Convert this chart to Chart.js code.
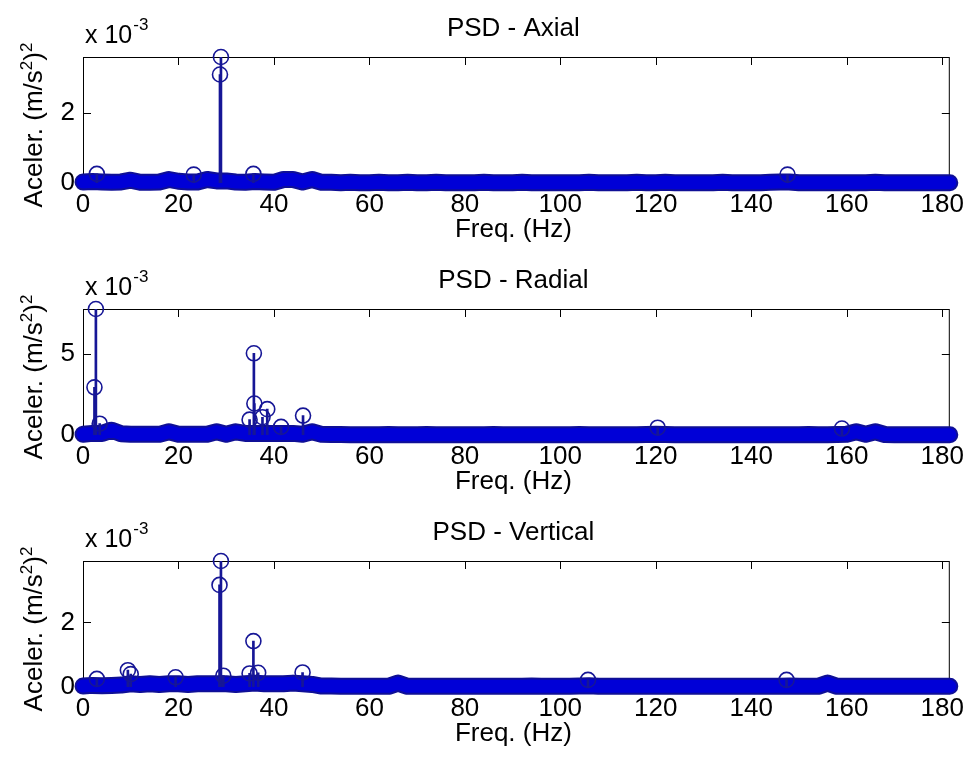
<!DOCTYPE html>
<html lang="pt">
<head>
<meta charset="UTF-8">
<title>PSD</title>
<script src="https://cdn.jsdelivr.net/npm/chart.js@4.4.0/dist/chart.umd.min.js"></script>
<style>
  body { margin: 0; background: #fff; }
  .panel { position: absolute; left: 0; width: 970px; }
</style>
</head>
<body>
<div class="panel" style="top:0"><canvas id="psdAxial" width="970" height="252"></canvas></div>
<div class="panel" style="top:252px"><canvas id="psdRadial" width="970" height="252"></canvas></div>
<div class="panel" style="top:504px"><canvas id="psdVertical" width="970" height="258"></canvas></div>

<script>
// values in units of 1e-3 (m/s^2)^2, as the axes show them
const xTicks = [0, 20, 40, 60, 80, 100, 120, 140, 160, 180];
const xMax = 181.6;

// the dense low-level floor of the spectrum
const baseFreq = [0, 2, 4, 6, 8, 10, 12, 14, 16, 18,
  20, 22, 24, 26, 28, 30, 32, 34, 36, 38,
  40, 42, 44, 46, 48, 50, 52, 54, 56, 58,
  60, 62, 64, 66, 68, 70, 72, 74, 76, 78,
  80, 82, 84, 86, 88, 90, 92, 94, 96, 98,
  100, 102, 104, 106, 108, 110, 112, 114, 116, 118,
  120, 122, 124, 126, 128, 130, 132, 134, 136, 138,
  140, 142, 144, 146, 148, 150, 152, 154, 156, 158,
  160, 162, 164, 166, 168, 170, 172, 174, 176, 178,
  180, 181.6];

const axialBase = [0.03, 0.04, 0.03, 0.02, 0.03, 0.08, 0.02, 0.02, 0.03, 0.1,
  0.05, 0.03, 0.03, 0.1, 0.06, 0.06, 0.03, 0.02, 0.04, 0.03,
  0.02, 0.1, 0.1, 0.03, 0.1, 0.02, 0.02, 0.01, 0.02, 0.01,
  0.01, 0.02, 0.01, 0.01, 0.02, 0.01, 0.01, 0.02, 0.01, 0.01,
  0.01, 0.01, 0.02, 0.01, 0.01, 0.01, 0.02, 0.01, 0.01, 0.01,
  0.01, 0.01, 0.01, 0.02, 0.01, 0.01, 0.01, 0.01, 0.02, 0.01,
  0.01, 0.02, 0.01, 0.01, 0.01, 0.01, 0.01, 0.02, 0.01, 0.01,
  0.01, 0.01, 0.02, 0.03, 0.03, 0.01, 0.01, 0.01, 0.01, 0.01,
  0.01, 0.01, 0.01, 0.02, 0.01, 0.01, 0.01, 0.01, 0.01, 0.01,
  0.01, 0.01];
const axialPeakFreq = [2.9, 23.2, 28.7, 28.9, 35.7, 147.6];
const axialPeakVal = [0.26, 0.24, 3.1, 3.6, 0.26, 0.24];

const radialBase = [0.05, 0.1, 0.1, 0.3, 0.08, 0.05, 0.04, 0.05, 0.04, 0.2,
  0.05, 0.04, 0.05, 0.05, 0.2, 0.05, 0.2, 0.1, 0.1, 0.1,
  0.1, 0.1, 0.1, 0.05, 0.2, 0.04, 0.03, 0.03, 0.02, 0.02,
  0.02, 0.02, 0.03, 0.02, 0.02, 0.02, 0.03, 0.02, 0.02, 0.02,
  0.02, 0.02, 0.02, 0.03, 0.02, 0.02, 0.02, 0.02, 0.02, 0.02,
  0.02, 0.02, 0.03, 0.02, 0.02, 0.02, 0.02, 0.02, 0.02, 0.03,
  0.05, 0.03, 0.02, 0.02, 0.02, 0.02, 0.02, 0.02, 0.02, 0.02,
  0.02, 0.02, 0.02, 0.02, 0.02, 0.02, 0.03, 0.02, 0.02, 0.03,
  0.05, 0.2, 0.05, 0.2, 0.03, 0.02, 0.02, 0.02, 0.02, 0.02,
  0.02, 0.02];
const radialPeakFreq = [2.4, 2.7, 3.5, 34.9, 35.8, 35.9, 37.6, 38.6, 41.5, 46.1, 120.4, 159.0];
const radialPeakVal = [2.95, 7.8, 0.7, 0.95, 5.06, 1.95, 1.1, 1.6, 0.5, 1.2, 0.45, 0.4];

const verticalBase = [0.03, 0.05, 0.04, 0.05, 0.06, 0.1, 0.08, 0.1, 0.08, 0.1,
  0.1, 0.08, 0.1, 0.1, 0.1, 0.1, 0.08, 0.1, 0.12, 0.1,
  0.1, 0.1, 0.12, 0.1, 0.08, 0.03, 0.03, 0.02, 0.02, 0.02,
  0.02, 0.02, 0.02, 0.12, 0.02, 0.02, 0.02, 0.02, 0.02, 0.02,
  0.02, 0.02, 0.02, 0.02, 0.02, 0.02, 0.02, 0.03, 0.02, 0.02,
  0.02, 0.02, 0.03, 0.04, 0.02, 0.02, 0.02, 0.02, 0.02, 0.02,
  0.02, 0.02, 0.02, 0.02, 0.02, 0.02, 0.02, 0.02, 0.02, 0.02,
  0.02, 0.02, 0.02, 0.02, 0.03, 0.02, 0.02, 0.02, 0.12, 0.02,
  0.02, 0.02, 0.02, 0.02, 0.02, 0.02, 0.02, 0.02, 0.02, 0.02,
  0.02, 0.02];
const verticalPeakFreq = [2.9, 9.4, 10.0, 19.4, 28.6, 28.9, 29.4, 34.9, 35.7, 36.7, 46.0, 105.8, 147.4];
const verticalPeakVal = [0.25, 0.52, 0.4, 0.3, 3.16, 3.9, 0.35, 0.42, 1.42, 0.44, 0.45, 0.22, 0.22];

const FONT = '"Liberation Sans", Arial, sans-serif';
const BAND = 'rgb(0, 0, 215)';
const BAND_EDGE = 'rgb(15, 15, 150)';
const NAVY = 'rgb(22, 22, 150)';

// MATLAB-like box, inward ticks and the texts around each axes
const matlabAxes = {
  id: 'matlabAxes',
  beforeDatasetsDraw(chart) {
    const { ctx, chartArea: a, scales: { x, y } } = chart;
    ctx.save();
    ctx.strokeStyle = '#000';
    ctx.lineWidth = 1;
    ctx.strokeRect(a.left + 0.5, a.top + 0.5, a.width - 1, a.height - 1);
    ctx.beginPath();
    x.ticks.forEach(t => {
      const px = Math.round(x.getPixelForValue(t.value)) + 0.5;
      ctx.moveTo(px, a.bottom); ctx.lineTo(px, a.bottom - 8);
      ctx.moveTo(px, a.top); ctx.lineTo(px, a.top + 8);
    });
    y.ticks.forEach(t => {
      const py = Math.round(y.getPixelForValue(t.value)) + 0.5;
      ctx.moveTo(a.left, py); ctx.lineTo(a.left + 8, py);
      ctx.moveTo(a.right, py); ctx.lineTo(a.right - 8, py);
    });
    ctx.stroke();
    ctx.restore();
  },
  afterDraw(chart, args, opts) {
    const { ctx, chartArea: a } = chart;
    const cx = (a.left + a.right) / 2;
    ctx.save();
    ctx.fillStyle = '#000';
    ctx.textBaseline = 'alphabetic';

    ctx.font = '26px ' + FONT;
    ctx.textAlign = 'center';
    ctx.fillText(opts.title, cx - 3, a.top - 21);
    ctx.fillText('Freq. (Hz)', cx - 3, a.bottom + 54);

    // x 10^-3 multiplier
    ctx.textAlign = 'left';
    ctx.font = '25px ' + FONT;
    ctx.fillText('x 10', a.left + 2, a.top - 14);
    const w = ctx.measureText('x 10').width;
    ctx.font = '17px ' + FONT;
    ctx.fillText('-3', a.left + 3 + w, a.top - 27);

    // y label with superscripts
    const parts = [['Aceler. (m/s', 26, 0], ['2', 17, 10], [')', 26, 0], ['2', 17, 10]];
    let total = 0;
    parts.forEach(p => { ctx.font = p[1] + 'px ' + FONT; total += ctx.measureText(p[0]).width; });
    ctx.translate(42, (a.top + a.bottom) / 2 + 5 + total / 2);
    ctx.rotate(-Math.PI / 2);
    let pos = 0;
    parts.forEach(p => {
      ctx.font = p[1] + 'px ' + FONT;
      ctx.fillText(p[0], pos, -p[2]);
      pos += ctx.measureText(p[0]).width;
    });
    ctx.restore();
  }
};

function toPoints(xs, ys) {
  return xs.map((f, i) => ({ x: f, y: ys[i] }));
}

// thousands of overlapping markers near zero form a solid band
function floorLine(points, width, color, order) {
  return {
    type: 'line',
    data: points,
    showLine: true,
    pointRadius: 0,
    borderWidth: width,
    borderColor: color,
    borderCapStyle: 'round',
    borderJoinStyle: 'round',
    tension: 0,
    fill: false,
    clip: false,
    order: order
  };
}

function makePanel(id, title, base, peakFreq, peakVal, yMax, yTicks) {
  const canvas = document.getElementById(id);
  const h = canvas.height;
  const floorPts = toPoints(baseFreq, base);
  new Chart(canvas, {
    type: 'scatter',
    data: {
      datasets: [
        floorLine(floorPts, 17, BAND_EDGE, 4),
        floorLine(floorPts, 13, BAND, 3),
        {
          type: 'bar',
          data: toPoints(peakFreq, peakVal),
          backgroundColor: NAVY,
          barThickness: 2,
          order: 2
        }, {
          data: toPoints(peakFreq, peakVal),
          pointRadius: 7.5,
          pointBorderWidth: 1.6,
          pointBackgroundColor: 'rgba(0,0,0,0)',
          pointBorderColor: NAVY,
          clip: false,
          order: 1
        }]
    },
    options: {
      responsive: false,
      devicePixelRatio: 1,
      animation: false,
      events: [],
      layout: { padding: { top: 57, left: 0, right: 17, bottom: 0 } },
      plugins: {
        legend: { display: false },
        tooltip: { enabled: false },
        matlabAxes: { title: title }
      },
      scales: {
        x: {
          type: 'linear',
          min: 0,
          max: xMax,
          offset: false,
          grid: { display: false, drawTicks: false },
          border: { display: false },
          ticks: { font: { family: FONT, size: 26 }, color: '#000', padding: 6, maxRotation: 0, autoSkip: false },
          afterBuildTicks: s => { s.ticks = xTicks.map(v => ({ value: v })); },
          afterFit: s => { s.height = h - 183; }
        },
        y: {
          min: 0,
          max: yMax,
          grid: { display: false, drawTicks: false },
          border: { display: false },
          ticks: { font: { family: FONT, size: 26 }, color: '#000', padding: 8 },
          afterBuildTicks: s => { s.ticks = yTicks.map(v => ({ value: v })); },
          afterFit: s => { s.width = 83; }
        }
      }
    },
    plugins: [matlabAxes]
  });
}

makePanel('psdAxial', 'PSD - Axial', axialBase, axialPeakFreq, axialPeakVal, 3.6, [0, 2]);
makePanel('psdRadial', 'PSD - Radial', radialBase, radialPeakFreq, radialPeakVal, 7.8, [0, 5]);
makePanel('psdVertical', 'PSD - Vertical', verticalBase, verticalPeakFreq, verticalPeakVal, 3.9, [0, 2]);
</script>
</body>
</html>
